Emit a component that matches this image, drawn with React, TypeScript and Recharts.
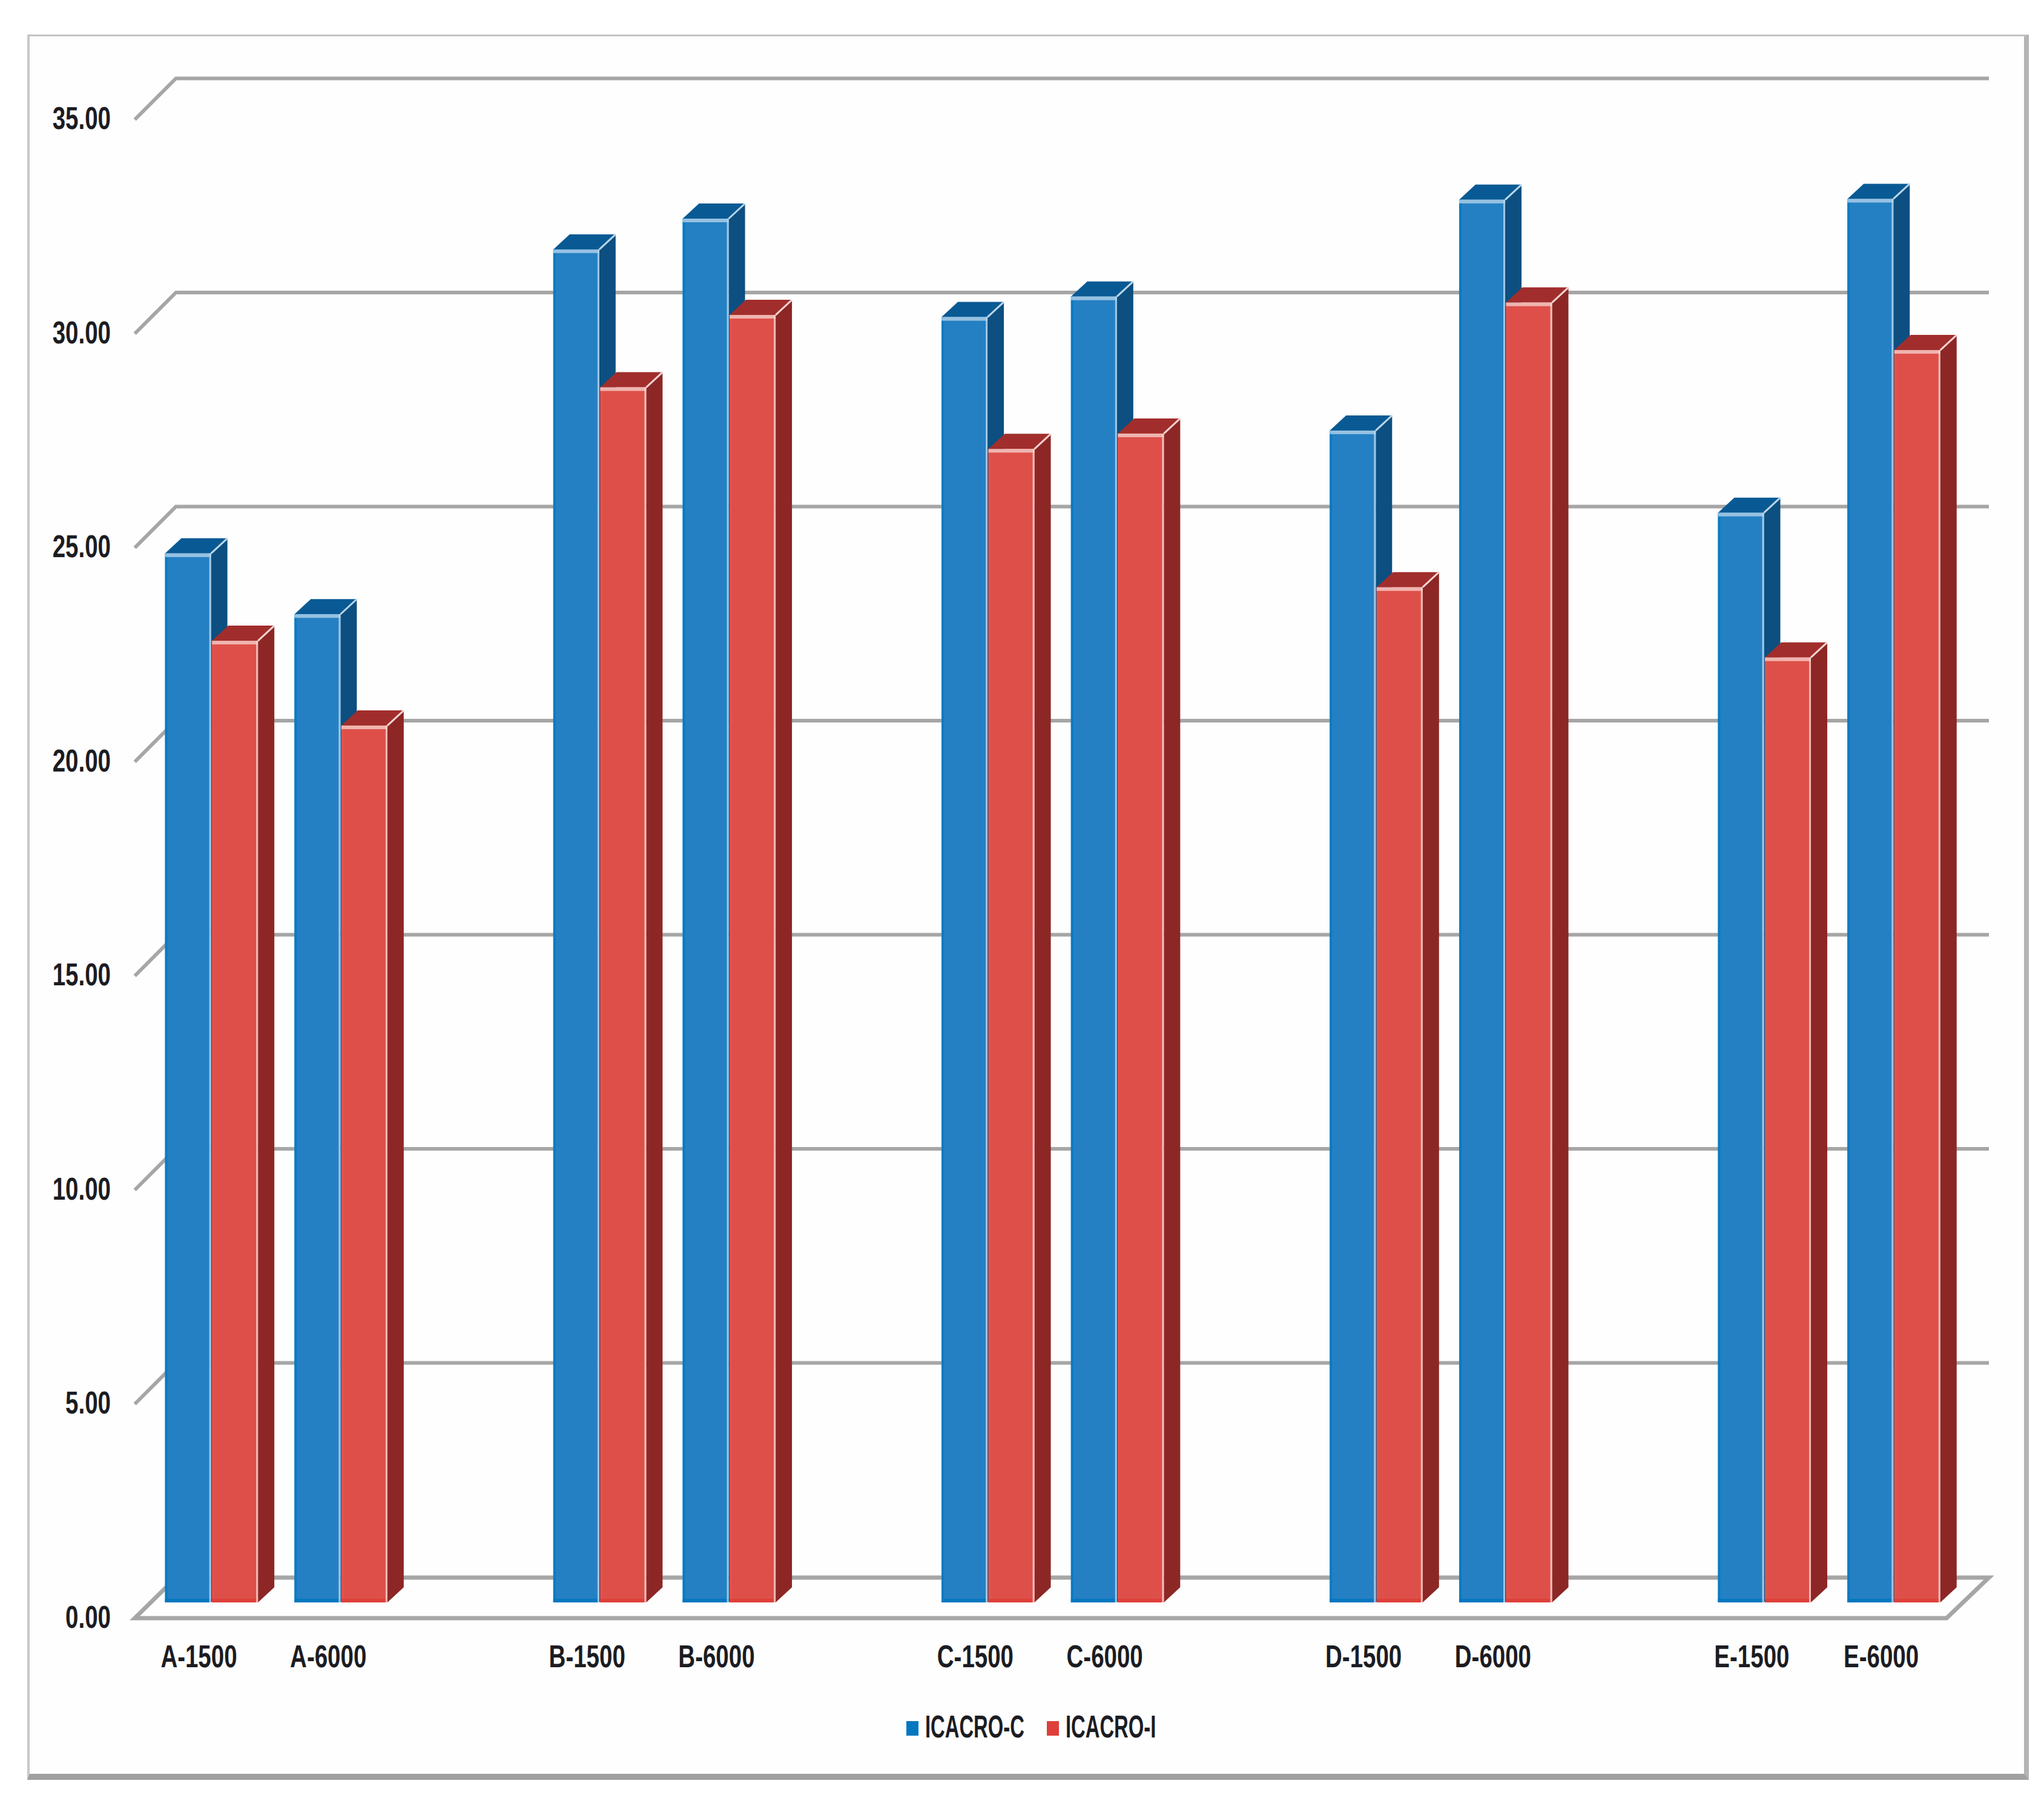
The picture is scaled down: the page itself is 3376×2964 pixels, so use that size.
import React from 'react';
import { BarChart, Bar, XAxis, YAxis, CartesianGrid, Legend } from 'recharts';

const categories = ['A-1500', 'A-6000', '', 'B-1500', 'B-6000', '', 'C-1500', 'C-6000', '', 'D-1500', 'D-6000', '', 'E-1500', 'E-6000'];
const icacroC = [24.5, 23.08, null, 31.6, 32.32, null, 30.02, 30.5, null, 27.37, 32.76, null, 25.45, 32.78];
const icacroI = [22.46, 20.48, null, 28.38, 30.07, null, 26.94, 27.3, null, 23.71, 30.36, null, 22.07, 29.25];
const yTicks = [0, 5, 10, 15, 20, 25, 30, 35];

const rows = categories.map((name, i) => ({ name, c: icacroC[i], i: icacroI[i] }));

const W = 3376;
const H = 2964;
const FONT = '"Liberation Sans", Arial, sans-serif';
const TEXT = '#1c1c22';
const GRID = '#a6a6a6';
const DX = 27;
const DY = 25;

const BLUE = { front: '#2580c3', top: '#095a94', side: '#0c4f80', edge: '#0a7cc2', glow: '#bcd7ec', bottom: '#0577c0' };
const RED = { front: '#de4f49', top: '#a12e2c', side: '#8c2725', edge: '#e2524c', glow: '#f6d5d2', bottom: '#df3f3a' };

const box = (pal: typeof BLUE) => (props: any) => {
  const { x, y, width: w, height: h } = props;
  if (h == null || !(h > 0)) return <g />;
  return (
    <g>
      <polygon points={`${x + w},${y} ${x + w + DX},${y - DY} ${x + w + DX},${y + h - DY} ${x + w},${y + h}`} fill={pal.side} />
      <polygon points={`${x},${y} ${x + DX},${y - DY} ${x + w + DX},${y - DY} ${x + w},${y}`} fill={pal.top} />
      <rect x={x} y={y} width={w} height={h} fill={pal.front} />
      <rect x={x} y={y} width={4} height={h} fill={pal.edge} />
      <rect x={x} y={y + h - 6} width={w} height={6} fill={pal.bottom} />
      <rect x={x} y={y} width={w} height={6} fill={pal.glow} opacity={0.75} />
      <rect x={x + w - 3} y={y} width={3} height={h} fill={pal.glow} opacity={0.8} />
      <line x1={x + w} y1={y} x2={x + w + DX} y2={y - DY} stroke={pal.glow} strokeWidth={3} />
    </g>
  );
};

const BlueBox = box(BLUE);
const RedBox = box(RED);

const gridLine = (props: any) => {
  const { x1, x2, y1, key, offset } = props;
  const bottom = offset ? offset.top + offset.height : 2646;
  const left = x1 - 20;
  const back = x1 + 48;
  const right = x2 + 50;
  if (Math.abs(y1 - bottom) < 1) {
    return (
      <g key={key}>
        <path d={`M${left} ${y1 + 26} L${x2 - 20} ${y1 + 26} L${right} ${y1 - 41} L${back} ${y1 - 41} Z`} fill="none" stroke={GRID} strokeWidth={7} />
      </g>
    );
  }
  return <path key={key} d={`M${left} ${y1 + 26} L${back} ${y1 - 42} L${right} ${y1 - 42}`} fill="none" stroke={GRID} strokeWidth={6} />;
};

const YTick = (props: any) => {
  const { y, payload } = props;
  return (
    <text
      transform={`translate(183 ${y + 24}) scale(0.74 1)`}
      textAnchor="end"
      dominantBaseline="central"
      fontFamily={FONT}
      fontWeight={700}
      fontSize={52}
      fill={TEXT}
    >
      {Number(payload.value).toFixed(2)}
    </text>
  );
};

const XTick = (props: any) => {
  const { x, y, index } = props;
  const label = categories[index];
  if (!label) return <g />;
  return (
    <text
      transform={`translate(${x - 21} ${y + 81}) scale(0.74 1)`}
      textAnchor="middle"
      dominantBaseline="central"
      fontFamily={FONT}
      fontWeight={700}
      fontSize={52}
      fill={TEXT}
    >
      {label}
    </text>
  );
};

const LegendBody = (props: any) => {
  const items = props.payload || [];
  return (
    <div style={{ position: 'relative', height: 60, fontFamily: FONT, fontWeight: 700, fontSize: 52, color: TEXT }}>
      {items.map((it: any, i: number) => (
        <div key={it.value} style={{ position: 'absolute', left: i === 0 ? 0 : 232, top: 0, whiteSpace: 'nowrap', height: 60 }}>
          <span style={{ position: 'absolute', left: 0, top: 22, width: 20, height: 24, background: it.color }} />
          <span style={{ position: 'absolute', left: 31, top: 1, lineHeight: '60px', transform: 'scaleX(0.63)', transformOrigin: 'left center' }}>
            {it.value}
          </span>
        </div>
      ))}
    </div>
  );
};

export default function App() {
  return (
    <div style={{ position: 'absolute', left: 0, top: 0, width: W, height: H, overflow: 'hidden', background: '#ffffff' }}>
      <div
        style={{
          position: 'absolute',
          left: 45,
          top: 57,
          width: 3306,
          height: 2882,
          boxSizing: 'border-box',
          background: '#fefefe',
          borderTop: '3px solid #c4c4c4',
          borderLeft: '4px solid #c8c8c8',
          borderRight: '8px solid #b4b4b4',
          borderBottom: '10px solid #a0a0a0',
        }}
      />
      <div style={{ position: 'absolute', left: 0, top: 0 }}>
        <BarChart
          width={W}
          height={H}
          data={rows}
          margin={{ left: 241.6, right: 141, top: 171.5, bottom: 317 }}
          barGap={1.5}
          barSize={76}
        >
          <CartesianGrid vertical={false} horizontal={gridLine} stroke={GRID} />
          <XAxis dataKey="name" height={1} interval={0} axisLine={false} tickLine={false} tick={XTick} />
          <YAxis width={1} domain={[0, 35]} ticks={yTicks} axisLine={false} tickLine={false} tick={YTick} />
          <Legend
            layout="horizontal"
            verticalAlign="middle"
            align="center"
            content={LegendBody}
            wrapperStyle={{ position: 'absolute', left: 1497, top: 2820, width: 430, height: 60 }}
          />
          <Bar dataKey="c" name="ICACRO-C" fill={BLUE.bottom} shape={BlueBox} isAnimationActive={false} />
          <Bar dataKey="i" name="ICACRO-I" fill={RED.bottom} shape={RedBox} isAnimationActive={false} />
        </BarChart>
      </div>
    </div>
  );
}
